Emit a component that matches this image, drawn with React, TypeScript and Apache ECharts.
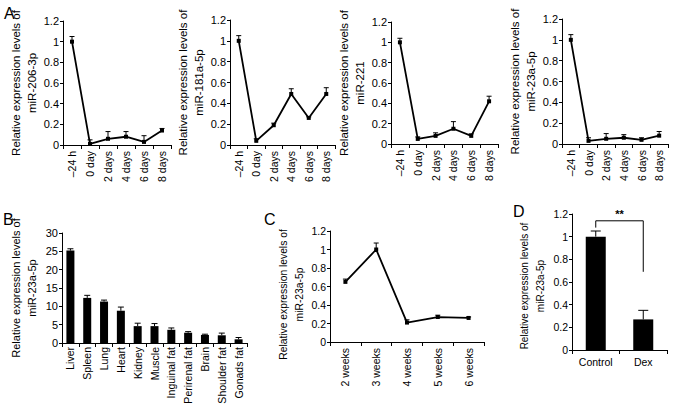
import React, { useEffect, useRef } from "react";
import * as echarts from "echarts";

const FONT = "'Liberation Sans', Arial, Helvetica, sans-serif";

// Panel A
const timeCats = ["–24 h", "0 day", "2 days", "4 days", "6 days", "8 days"];
const mir206 = [1.0, 0.01, 0.06, 0.08, 0.03, 0.14];
const mir206Err = [0.05, 0.04, 0.07, 0.05, 0.06, 0.02];
const mir181 = [1.0, 0.04, 0.19, 0.49, 0.26, 0.49];
const mir181Err = [0.05, 0.02, 0.02, 0.05, 0.01, 0.06];
const mir221 = [1.0, 0.05, 0.08, 0.15, 0.08, 0.42];
const mir221Err = [0.04, 0.02, 0.03, 0.07, 0.02, 0.05];
const mir23a = [1.0, 0.03, 0.05, 0.06, 0.04, 0.08];
const mir23aErr = [0.05, 0.03, 0.05, 0.03, 0.02, 0.04];
const aNames = ["miR-206-3p", "miR-181a-5p", "miR-221", "miR-23a-5p"];

// Panel B
const tissueCats = ["Liver", "Spleen", "Lung", "Heart", "Kidney", "Muscle", "Inguinal fat", "Perirenal fat", "Brain", "Shoulder fat", "Gonads fat"];
const tissueVals = [25.2, 12.3, 11.3, 8.8, 4.6, 4.6, 3.6, 2.8, 2.2, 2.1, 1.0];
const tissueErr = [0.5, 0.7, 0.4, 1.0, 0.8, 0.7, 0.5, 0.3, 0.2, 0.6, 0.5];

// Panel C
const weekCats = ["2 weeks", "3 weeks", "4 weeks", "5 weeks", "6 weeks"];
const weekVals = [0.65, 1.0, 0.21, 0.27, 0.26];
const weekErr = [0.03, 0.07, 0.03, 0.02, 0.01];

// Panel D
const dexCats = ["Control", "Dex"];
const dexVals = [1.0, 0.27];
const dexErr = [0.05, 0.08];
const bracketFrom = 0;
const bracketTo = 1;
const bracketLeftEnd = 1.08;
const bracketTop = 1.14;
const bracketRightEnd = 0.69;
const bracketMark = "**";

const yTitle = (n: string) => "Relative expression levels of\n" + n;

const grids = [
  { left: 63, top: 21, width: 108, height: 124 },
  { left: 230, top: 20, width: 105, height: 125 },
  { left: 391, top: 22, width: 107, height: 122 },
  { left: 562, top: 19, width: 106, height: 125 },
  { left: 62, top: 233, width: 185, height: 110 },
  { left: 330, top: 231, width: 154, height: 111 },
  { left: 572, top: 214, width: 95, height: 136 },
];
const nameGaps = [23, 18, 20, 21.5, 22, 19.5, 23.5];
const nameSizes = [11.5, 11.5, 11.5, 11.5, 11, 10.3, 10];
const nameShift = [0, 0, 0, 0, 0, 16, 8];
const tickSizes = [11, 11, 11, 11, 11, 10.5, 10.5];

const axisLine = { show: true, lineStyle: { color: "#000", width: 1 } };
const axisTick = { show: true, length: 3, lineStyle: { color: "#000", width: 1 } };

function errRender(cap: number) {
  return (params: any, api: any) => {
    const x = api.value(0);
    const v = api.value(1);
    const e = api.value(2);
    const p0 = api.coord([x, v]);
    const p1 = api.coord([x, v + e]);
    return {
      type: "group",
      children: [
        { type: "line", shape: { x1: p0[0], y1: p0[1], x2: p1[0], y2: p1[1] }, style: { stroke: "#000", lineWidth: 1 } },
        { type: "line", shape: { x1: p1[0] - cap, y1: p1[1], x2: p1[0] + cap, y2: p1[1] }, style: { stroke: "#000", lineWidth: 1 } },
      ],
    };
  };
}

export default function App() {
  const ref = useRef<HTMLDivElement>(null);
  useEffect(() => {
    document.body.style.margin = "0";
    if (!ref.current) return;
    const chart = echarts.init(ref.current, null, { renderer: "svg" });

    const xAxes: any[] = [];
    const yAxes: any[] = [];
    const series: any[] = [];

    const mkX = (gi: number, cats: string[], rotate: number, margin: number) => ({
      type: "category",
      gridIndex: gi,
      data: cats,
      boundaryGap: true,
      axisLine,
      axisTick: { ...axisTick, length: 4 },
      axisLabel: { color: "#000", fontSize: 10.5, fontFamily: FONT, rotate, margin, interval: 0 },
      splitLine: { show: false },
    });
    const mkY = (gi: number, max: number, interval: number, name: string) => ({
      type: "value",
      gridIndex: gi,
      min: 0,
      max,
      interval,
      name,
      nameLocation: "middle",
      nameRotate: 90,
      nameGap: nameGaps[gi],
      nameTextStyle: {
        color: "#000",
        fontSize: nameSizes[gi],
        fontFamily: FONT,
        lineHeight: 16,
        padding: [0, nameShift[gi], 0, 0],
      },
      axisLine,
      axisTick,
      axisLabel: { color: "#000", fontSize: tickSizes[gi], fontFamily: FONT, margin: 4 },
      splitLine: { show: false },
    });

    const aVals = [mir206, mir181, mir221, mir23a];
    const aErrs = [mir206Err, mir181Err, mir221Err, mir23aErr];
    for (let i = 0; i < 4; i++) {
      xAxes.push(mkX(i, timeCats, 90, 6));
      yAxes.push(mkY(i, 1.2, 0.2, yTitle(aNames[i])));
      series.push({
        type: "line",
        xAxisIndex: i,
        yAxisIndex: i,
        data: aVals[i],
        symbol: "rect",
        symbolSize: 4,
        itemStyle: { color: "#000" },
        lineStyle: { color: "#000", width: 1.8 },
        z: 3,
      });
      series.push({
        type: "custom",
        xAxisIndex: i,
        yAxisIndex: i,
        renderItem: errRender(2.5),
        data: aVals[i].map((v, k) => [k, v, aErrs[i][k]]),
        z: 2,
      });
    }

    // B
    xAxes.push(mkX(4, tissueCats, 90, 4));
    yAxes.push(mkY(4, 30, 5, yTitle("miR-23a-5p")));
    series.push({ type: "bar", xAxisIndex: 4, yAxisIndex: 4, data: tissueVals, barWidth: 8, itemStyle: { color: "#000" } });
    series.push({ type: "custom", xAxisIndex: 4, yAxisIndex: 4, renderItem: errRender(3), data: tissueVals.map((v, k) => [k, v, tissueErr[k]]), z: 3 });

    // C
    xAxes.push(mkX(5, weekCats, 90, 6));
    yAxes.push(mkY(5, 1.2, 0.2, yTitle("miR-23a-5p")));
    series.push({
      type: "line", xAxisIndex: 5, yAxisIndex: 5, data: weekVals, symbol: "rect", symbolSize: 4,
      itemStyle: { color: "#000" }, lineStyle: { color: "#000", width: 1.8 }, z: 3,
    });
    series.push({ type: "custom", xAxisIndex: 5, yAxisIndex: 5, renderItem: errRender(2.5), data: weekVals.map((v, k) => [k, v, weekErr[k]]), z: 2 });

    // D
    xAxes.push(mkX(6, dexCats, 0, 6));
    yAxes.push(mkY(6, 1.2, 0.2, yTitle("miR-23a-5p")));
    series.push({ type: "bar", xAxisIndex: 6, yAxisIndex: 6, data: dexVals, barWidth: 20, itemStyle: { color: "#000" } });
    series.push({ type: "custom", xAxisIndex: 6, yAxisIndex: 6, renderItem: errRender(5), data: dexVals.map((v, k) => [k, v, dexErr[k]]), z: 3 });
    series.push({
      type: "custom",
      xAxisIndex: 6,
      yAxisIndex: 6,
      data: [[bracketFrom, bracketTo, bracketLeftEnd, bracketTop, bracketRightEnd]],
      renderItem: (params: any, api: any) => {
        const a = api.coord([api.value(0), api.value(2)]);
        const b = api.coord([api.value(0), api.value(3)]);
        const c = api.coord([api.value(1), api.value(3)]);
        const d = api.coord([api.value(1), api.value(4)]);
        return {
          type: "group",
          children: [
            { type: "polyline", shape: { points: [a, b, c, d] }, style: { stroke: "#000", lineWidth: 1, fill: "none" } },
            {
              type: "text",
              x: (b[0] + c[0]) / 2,
              y: b[1] - 1,
              style: { text: bracketMark, fill: "#000", font: "bold 11px " + FONT, align: "center", verticalAlign: "bottom" },
            },
          ],
        };
      },
      z: 3,
    });

    const letters = [
      { t: "A", x: 4, y: 5 },
      { t: "B", x: 3, y: 211 },
      { t: "C", x: 264, y: 211 },
      { t: "D", x: 513, y: 203 },
    ];

    chart.setOption({
      animation: false,
      backgroundColor: "#fff",
      grid: grids.map((g) => ({ ...g, containLabel: false })),
      xAxis: xAxes,
      yAxis: yAxes,
      series,
      graphic: letters.map((l) => ({
        type: "text",
        left: l.x,
        top: l.y,
        style: { text: l.t, fill: "#000", font: "16px " + FONT },
      })),
    });
    return () => chart.dispose();
  }, []);
  return <div ref={ref} style={{ width: 677, height: 412 }} />;
}
